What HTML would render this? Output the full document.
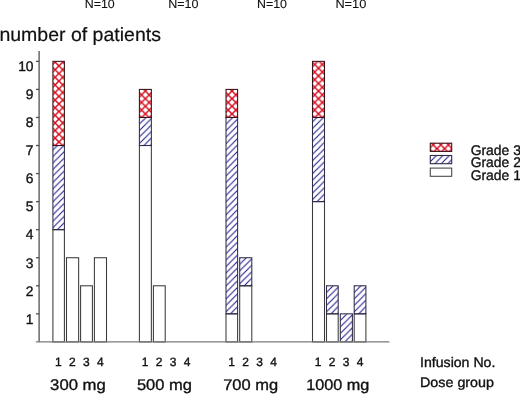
<!DOCTYPE html>
<html><head><meta charset="utf-8"><style>
html,body{margin:0;padding:0;background:#fff;overflow:hidden;width:520px;height:394px;}
svg{display:block;font-family:"Liberation Sans",sans-serif;text-rendering:geometricPrecision;will-change:transform;}
</style></head><body>
<svg width="520" height="394" viewBox="0 0 520 394">
<defs>
<pattern id="b1" patternUnits="userSpaceOnUse" x="44.43" y="229.68" width="6.47" height="6.47"><path d="M-1,7.47 L7.47,-1 M-1,1 L1,-1 M5.47,7.47 L7.47,5.47" stroke="#221c8c" stroke-width="1.1" fill="none"/></pattern>
<pattern id="r2" patternUnits="userSpaceOnUse" x="58.90" y="141.91" width="7.6" height="7.6"><path d="M-1,-1 L8.6,8.6 M8.6,-1 L-1,8.6" stroke="#d40a1c" stroke-width="1.45" fill="none"/></pattern>
<pattern id="b3" patternUnits="userSpaceOnUse" x="130.93" y="145.51" width="6.47" height="6.47"><path d="M-1,7.47 L7.47,-1 M-1,1 L1,-1 M5.47,7.47 L7.47,5.47" stroke="#221c8c" stroke-width="1.1" fill="none"/></pattern>
<pattern id="r4" patternUnits="userSpaceOnUse" x="145.40" y="113.86" width="7.6" height="7.6"><path d="M-1,-1 L8.6,8.6 M8.6,-1 L-1,8.6" stroke="#d40a1c" stroke-width="1.45" fill="none"/></pattern>
<pattern id="b5" patternUnits="userSpaceOnUse" x="217.53" y="313.84" width="6.47" height="6.47"><path d="M-1,7.47 L7.47,-1 M-1,1 L1,-1 M5.47,7.47 L7.47,5.47" stroke="#221c8c" stroke-width="1.1" fill="none"/></pattern>
<pattern id="r6" patternUnits="userSpaceOnUse" x="232.00" y="113.86" width="7.6" height="7.6"><path d="M-1,-1 L8.6,8.6 M8.6,-1 L-1,8.6" stroke="#d40a1c" stroke-width="1.45" fill="none"/></pattern>
<pattern id="b7" patternUnits="userSpaceOnUse" x="231.23" y="285.79" width="6.47" height="6.47"><path d="M-1,7.47 L7.47,-1 M-1,1 L1,-1 M5.47,7.47 L7.47,5.47" stroke="#221c8c" stroke-width="1.1" fill="none"/></pattern>
<pattern id="b8" patternUnits="userSpaceOnUse" x="304.03" y="201.62" width="6.47" height="6.47"><path d="M-1,7.47 L7.47,-1 M-1,1 L1,-1 M5.47,7.47 L7.47,5.47" stroke="#221c8c" stroke-width="1.1" fill="none"/></pattern>
<pattern id="r9" patternUnits="userSpaceOnUse" x="318.50" y="113.86" width="7.6" height="7.6"><path d="M-1,-1 L8.6,8.6 M8.6,-1 L-1,8.6" stroke="#d40a1c" stroke-width="1.45" fill="none"/></pattern>
<pattern id="b10" patternUnits="userSpaceOnUse" x="318.03" y="313.84" width="6.47" height="6.47"><path d="M-1,7.47 L7.47,-1 M-1,1 L1,-1 M5.47,7.47 L7.47,5.47" stroke="#221c8c" stroke-width="1.1" fill="none"/></pattern>
<pattern id="b11" patternUnits="userSpaceOnUse" x="331.83" y="341.90" width="6.47" height="6.47"><path d="M-1,7.47 L7.47,-1 M-1,1 L1,-1 M5.47,7.47 L7.47,5.47" stroke="#221c8c" stroke-width="1.1" fill="none"/></pattern>
<pattern id="b12" patternUnits="userSpaceOnUse" x="345.73" y="313.84" width="6.47" height="6.47"><path d="M-1,7.47 L7.47,-1 M-1,1 L1,-1 M5.47,7.47 L7.47,5.47" stroke="#221c8c" stroke-width="1.1" fill="none"/></pattern>
<pattern id="r13" patternUnits="userSpaceOnUse" x="437.00" y="148.60" width="7.6" height="7.6"><path d="M-1,-1 L8.6,8.6 M8.6,-1 L-1,8.6" stroke="#d40a1c" stroke-width="1.45" fill="none"/></pattern>
<pattern id="b14" patternUnits="userSpaceOnUse" x="421.83" y="163.70" width="6.47" height="6.47"><path d="M-1,7.47 L7.47,-1 M-1,1 L1,-1 M5.47,7.47 L7.47,5.47" stroke="#221c8c" stroke-width="1.1" fill="none"/></pattern>
</defs>
<rect x="0" y="0" width="520" height="394" fill="#fff"/>
<g>
<rect x="52.90" y="229.68" width="11.50" height="112.22" fill="#ffffff" stroke="#3a3a3a" stroke-width="1.05"/>
<rect x="52.90" y="145.51" width="11.50" height="84.16" fill="url(#b1)" stroke="#2e2c48" stroke-width="1.05"/>
<rect x="52.90" y="61.35" width="11.50" height="84.17" fill="url(#r2)" stroke="#3a1216" stroke-width="1.05"/>
<rect x="66.50" y="257.74" width="12.15" height="84.16" fill="#ffffff" stroke="#3a3a3a" stroke-width="1.05"/>
<rect x="80.60" y="285.79" width="11.80" height="56.11" fill="#ffffff" stroke="#3a3a3a" stroke-width="1.05"/>
<rect x="94.40" y="257.74" width="12.10" height="84.16" fill="#ffffff" stroke="#3a3a3a" stroke-width="1.05"/>
<rect x="139.40" y="145.51" width="11.95" height="196.38" fill="#ffffff" stroke="#3a3a3a" stroke-width="1.05"/>
<rect x="139.40" y="117.46" width="11.95" height="28.06" fill="url(#b3)" stroke="#2e2c48" stroke-width="1.05"/>
<rect x="139.40" y="89.40" width="11.95" height="28.06" fill="url(#r4)" stroke="#3a1216" stroke-width="1.05"/>
<rect x="153.40" y="285.79" width="11.80" height="56.11" fill="#ffffff" stroke="#3a3a3a" stroke-width="1.05"/>
<rect x="226.00" y="313.84" width="11.60" height="28.06" fill="#ffffff" stroke="#3a3a3a" stroke-width="1.05"/>
<rect x="226.00" y="117.46" width="11.60" height="196.38" fill="url(#b5)" stroke="#2e2c48" stroke-width="1.05"/>
<rect x="226.00" y="89.40" width="11.60" height="28.06" fill="url(#r6)" stroke="#3a1216" stroke-width="1.05"/>
<rect x="239.70" y="285.79" width="12.10" height="56.11" fill="#ffffff" stroke="#3a3a3a" stroke-width="1.05"/>
<rect x="239.70" y="257.74" width="12.10" height="28.05" fill="url(#b7)" stroke="#2e2c48" stroke-width="1.05"/>
<rect x="312.50" y="201.62" width="12.00" height="140.28" fill="#ffffff" stroke="#3a3a3a" stroke-width="1.05"/>
<rect x="312.50" y="117.46" width="12.00" height="84.16" fill="url(#b8)" stroke="#2e2c48" stroke-width="1.05"/>
<rect x="312.50" y="61.35" width="12.00" height="56.11" fill="url(#r9)" stroke="#3a1216" stroke-width="1.05"/>
<rect x="326.50" y="313.84" width="11.70" height="28.06" fill="#ffffff" stroke="#3a3a3a" stroke-width="1.05"/>
<rect x="326.50" y="285.79" width="11.70" height="28.06" fill="url(#b10)" stroke="#2e2c48" stroke-width="1.05"/>
<rect x="340.30" y="313.84" width="12.10" height="28.06" fill="url(#b11)" stroke="#2e2c48" stroke-width="1.05"/>
<rect x="354.20" y="313.84" width="11.70" height="28.06" fill="#ffffff" stroke="#3a3a3a" stroke-width="1.05"/>
<rect x="354.20" y="285.79" width="11.70" height="28.06" fill="url(#b12)" stroke="#2e2c48" stroke-width="1.05"/>
<rect x="430.3" y="143.2" width="21.4" height="8.2" fill="url(#r13)" stroke="#3a1216" stroke-width="1.1"/>
<rect x="430.3" y="155.5" width="21.4" height="8.2" fill="url(#b14)" stroke="#2e2c48" stroke-width="1.1"/>
<rect x="430.3" y="168.1" width="21.4" height="8.2" fill="#ffffff" stroke="#4a4a4a" stroke-width="1.1"/>
<line x1="39.1" y1="51" x2="39.1" y2="341.9" stroke="#505050" stroke-width="1.3"/>
<line x1="35.8" y1="341.9" x2="389.4" y2="341.9" stroke="#7a7a7a" stroke-width="1.3"/>
<line x1="36" y1="313.84" x2="39.2" y2="313.84" stroke="#505050" stroke-width="1.3"/>
<line x1="36" y1="285.79" x2="39.2" y2="285.79" stroke="#505050" stroke-width="1.3"/>
<line x1="36" y1="257.74" x2="39.2" y2="257.74" stroke="#505050" stroke-width="1.3"/>
<line x1="36" y1="229.68" x2="39.2" y2="229.68" stroke="#505050" stroke-width="1.3"/>
<line x1="36" y1="201.62" x2="39.2" y2="201.62" stroke="#505050" stroke-width="1.3"/>
<line x1="36" y1="173.57" x2="39.2" y2="173.57" stroke="#505050" stroke-width="1.3"/>
<line x1="36" y1="145.51" x2="39.2" y2="145.51" stroke="#505050" stroke-width="1.3"/>
<line x1="36" y1="117.46" x2="39.2" y2="117.46" stroke="#505050" stroke-width="1.3"/>
<line x1="36" y1="89.40" x2="39.2" y2="89.40" stroke="#505050" stroke-width="1.3"/>
<line x1="36" y1="61.35" x2="39.2" y2="61.35" stroke="#505050" stroke-width="1.3"/>
<text x="-0.6" y="40.5" font-size="19.3" fill="#111" stroke="#111" stroke-width="0.2" text-anchor="start" textLength="161.5" lengthAdjust="spacingAndGlyphs">number of patients</text>
<text x="84.7" y="8.4" font-size="12" fill="#111" stroke="#111" stroke-width="0.1" text-anchor="start" textLength="30.0" lengthAdjust="spacingAndGlyphs">N=10</text>
<text x="168.2" y="8.4" font-size="12" fill="#111" stroke="#111" stroke-width="0.1" text-anchor="start" textLength="30.3" lengthAdjust="spacingAndGlyphs">N=10</text>
<text x="257.09999999999997" y="8.4" font-size="12" fill="#111" stroke="#111" stroke-width="0.1" text-anchor="start" textLength="29.9" lengthAdjust="spacingAndGlyphs">N=10</text>
<text x="335.4" y="8.4" font-size="12" fill="#111" stroke="#111" stroke-width="0.1" text-anchor="start" textLength="30.9" lengthAdjust="spacingAndGlyphs">N=10</text>
<text x="33.5" y="323.64" font-size="13.8" fill="#111" stroke="#111" stroke-width="0.35" text-anchor="end">1</text>
<text x="33.5" y="295.59" font-size="13.8" fill="#111" stroke="#111" stroke-width="0.35" text-anchor="end">2</text>
<text x="33.5" y="267.54" font-size="13.8" fill="#111" stroke="#111" stroke-width="0.35" text-anchor="end">3</text>
<text x="33.5" y="239.48" font-size="13.8" fill="#111" stroke="#111" stroke-width="0.35" text-anchor="end">4</text>
<text x="33.5" y="211.42" font-size="13.8" fill="#111" stroke="#111" stroke-width="0.35" text-anchor="end">5</text>
<text x="33.5" y="183.37" font-size="13.8" fill="#111" stroke="#111" stroke-width="0.35" text-anchor="end">6</text>
<text x="33.5" y="155.31" font-size="13.8" fill="#111" stroke="#111" stroke-width="0.35" text-anchor="end">7</text>
<text x="33.5" y="127.26" font-size="13.8" fill="#111" stroke="#111" stroke-width="0.35" text-anchor="end">8</text>
<text x="33.5" y="99.20" font-size="13.8" fill="#111" stroke="#111" stroke-width="0.35" text-anchor="end">9</text>
<text x="33.5" y="71.15" font-size="13.8" fill="#111" stroke="#111" stroke-width="0.35" text-anchor="end">10</text>
<text x="58.45" y="365.6" font-size="12" fill="#111" stroke="#111" stroke-width="0.35" text-anchor="middle">1</text>
<text x="72.45" y="365.6" font-size="12" fill="#111" stroke="#111" stroke-width="0.35" text-anchor="middle">2</text>
<text x="86.45" y="365.6" font-size="12" fill="#111" stroke="#111" stroke-width="0.35" text-anchor="middle">3</text>
<text x="100.45" y="365.6" font-size="12" fill="#111" stroke="#111" stroke-width="0.35" text-anchor="middle">4</text>
<text x="145.00" y="365.6" font-size="12" fill="#111" stroke="#111" stroke-width="0.35" text-anchor="middle">1</text>
<text x="159.00" y="365.6" font-size="12" fill="#111" stroke="#111" stroke-width="0.35" text-anchor="middle">2</text>
<text x="173.00" y="365.6" font-size="12" fill="#111" stroke="#111" stroke-width="0.35" text-anchor="middle">3</text>
<text x="187.00" y="365.6" font-size="12" fill="#111" stroke="#111" stroke-width="0.35" text-anchor="middle">4</text>
<text x="231.55" y="365.6" font-size="12" fill="#111" stroke="#111" stroke-width="0.35" text-anchor="middle">1</text>
<text x="245.55" y="365.6" font-size="12" fill="#111" stroke="#111" stroke-width="0.35" text-anchor="middle">2</text>
<text x="259.55" y="365.6" font-size="12" fill="#111" stroke="#111" stroke-width="0.35" text-anchor="middle">3</text>
<text x="273.55" y="365.6" font-size="12" fill="#111" stroke="#111" stroke-width="0.35" text-anchor="middle">4</text>
<text x="318.10" y="365.6" font-size="12" fill="#111" stroke="#111" stroke-width="0.35" text-anchor="middle">1</text>
<text x="332.10" y="365.6" font-size="12" fill="#111" stroke="#111" stroke-width="0.35" text-anchor="middle">2</text>
<text x="346.10" y="365.6" font-size="12" fill="#111" stroke="#111" stroke-width="0.35" text-anchor="middle">3</text>
<text x="360.10" y="365.6" font-size="12" fill="#111" stroke="#111" stroke-width="0.35" text-anchor="middle">4</text>
<text x="50.1" y="389.5" font-size="15.4" fill="#111" stroke="#111" stroke-width="0.35" text-anchor="start" textLength="55.7" lengthAdjust="spacingAndGlyphs">300 mg</text>
<text x="136.9" y="389.5" font-size="15.4" fill="#111" stroke="#111" stroke-width="0.35" text-anchor="start" textLength="55.1" lengthAdjust="spacingAndGlyphs">500 mg</text>
<text x="223.20000000000002" y="389.5" font-size="15.4" fill="#111" stroke="#111" stroke-width="0.35" text-anchor="start" textLength="55" lengthAdjust="spacingAndGlyphs">700 mg</text>
<text x="306.2" y="389.5" font-size="15.4" fill="#111" stroke="#111" stroke-width="0.35" text-anchor="start" textLength="63.2" lengthAdjust="spacingAndGlyphs">1000 mg</text>
<text x="470.7" y="154.7" font-size="14" fill="#111" stroke="#111" stroke-width="0.35" text-anchor="start" textLength="38.6" lengthAdjust="spacingAndGlyphs">Grade</text>
<text x="513.2" y="154.7" font-size="14" fill="#111" stroke="#111" stroke-width="0.35" text-anchor="start">3</text>
<text x="470.7" y="167.2" font-size="14" fill="#111" stroke="#111" stroke-width="0.35" text-anchor="start" textLength="38.6" lengthAdjust="spacingAndGlyphs">Grade</text>
<text x="513.2" y="167.2" font-size="14" fill="#111" stroke="#111" stroke-width="0.35" text-anchor="start">2</text>
<text x="470.7" y="179.8" font-size="14" fill="#111" stroke="#111" stroke-width="0.35" text-anchor="start" textLength="38.6" lengthAdjust="spacingAndGlyphs">Grade</text>
<text x="513.2" y="179.8" font-size="14" fill="#111" stroke="#111" stroke-width="0.35" text-anchor="start">1</text>
<text x="420.0" y="367" font-size="13.8" fill="#111" stroke="#111" stroke-width="0.35" text-anchor="start" textLength="75.4" lengthAdjust="spacingAndGlyphs">Infusion No.</text>
<text x="420.0" y="387" font-size="13.8" fill="#111" stroke="#111" stroke-width="0.35" text-anchor="start" textLength="74" lengthAdjust="spacingAndGlyphs">Dose group</text>
</g>
</svg>
</body></html>
